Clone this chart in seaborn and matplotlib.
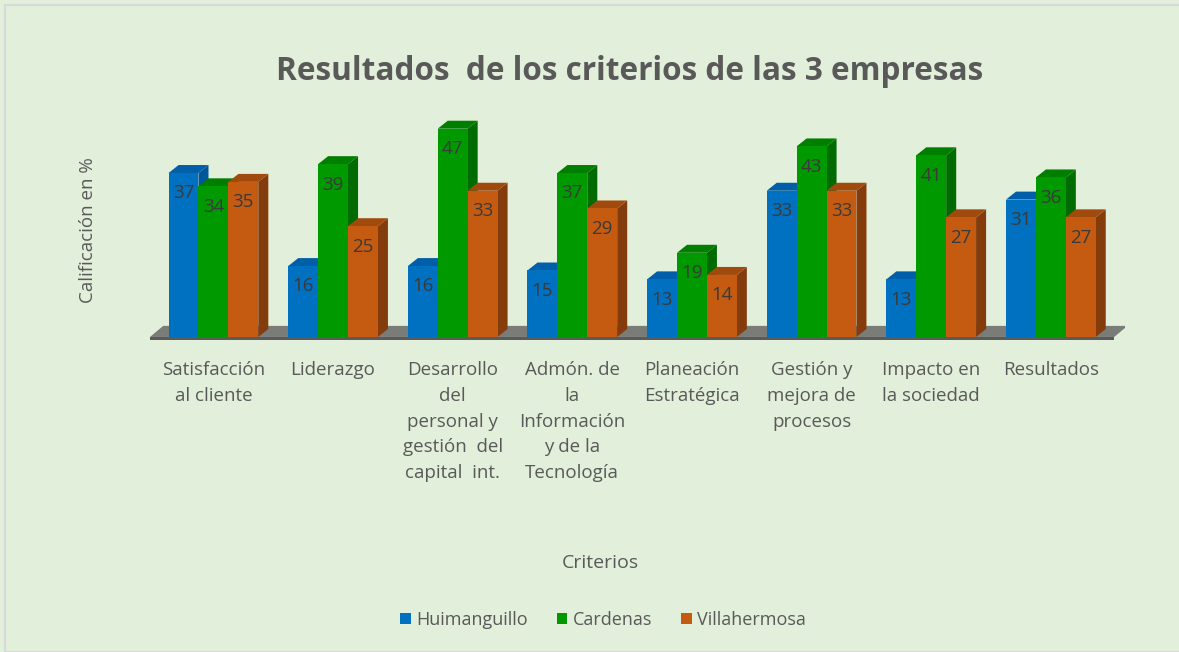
import matplotlib
matplotlib.use("Agg")
import matplotlib.pyplot as plt
from matplotlib.patches import Polygon, Rectangle
import seaborn as sns
import pandas as pd

# datos
criterios = [
    "Satisfacción\nal cliente",
    "Liderazgo",
    "Desarrollo\ndel\npersonal y\ngestión  del\ncapital  int.",
    "Admón. de\nla\nInformación\ny de la\nTecnología",
    "Planeación\nEstratégica",
    "Gestión y\nmejora de\nprocesos",
    "Impacto en\nla sociedad",
    "Resultados",
]
empresas = ["Huimanguillo", "Cardenas", "Villahermosa"]
huimanguillo = [37, 16, 16, 15, 13, 33, 13, 31]
cardenas = [34, 39, 47, 37, 19, 43, 41, 36]
villahermosa = [35, 25, 33, 29, 14, 33, 27, 27]

colores = ["#0070C0", "#009A00", "#C55A11"]
lados = ["#00569A", "#006B00", "#843C0C"]
techos = ["#005FA8", "#007E00", "#A14A0E"]

BG = "#E2EFDA"
GRIS = "#595959"
FONT = "Open Sans"


def build_df():
    rows = []
    for emp, vals in zip(empresas, [huimanguillo, cardenas, villahermosa]):
        for c, v in zip(criterios, vals):
            rows.append({"criterio": c, "empresa": emp, "valor": v})
    return pd.DataFrame(rows)


def add_3d(ax, dx, dy):
    # caras laterales y superiores a partir de las barras de seaborn
    bars = []
    for i, cont in enumerate(ax.containers):
        for p in cont.patches:
            bars.append((p.get_x(), p.get_width(), p.get_height(), i, p))
    bars.sort(key=lambda b: b[0])
    z = 3
    for x, w, h, i, p in bars:
        side = Polygon([(x + w, 0), (x + w + dx, dy), (x + w + dx, h + dy), (x + w, h)],
                       closed=True, facecolor=lados[i], edgecolor="none", zorder=z)
        top = Polygon([(x, h), (x + dx, h + dy), (x + w + dx, h + dy), (x + w, h)],
                      closed=True, facecolor=techos[i], edgecolor="none", zorder=z)
        ax.add_patch(side)
        ax.add_patch(top)
        p.set_zorder(z + 1)
        p.set_edgecolor("none")
        z += 2
        ax.text(x + w / 2, h - 4.6, f"{h:.0f}", ha="center", va="center",
                fontsize=13.5, color="#3A3A3A", family=FONT, zorder=200)


def main():
    df = build_df()
    fig = plt.figure(figsize=(11.79, 6.52), dpi=100)
    fig.patch.set_facecolor(BG)
    ax = fig.add_axes([150 / 1179, 1 - 341.4 / 652, 975 / 1179, 226 / 652])
    ax.set_facecolor("none")

    sns.barplot(data=df, x="criterio", y="valor", hue="empresa",
                palette=colores, width=0.75, saturation=1, ax=ax, legend=False)

    x0, x1 = -0.53, 7.53
    ax.set_xlim(-0.53, 7.62)
    ax.set_ylim(-1, 50)

    # piso
    fdx, fdy = 0.11, 2.5
    ax.add_patch(Polygon([(x0, 0), (x1, 0), (x1 + fdx, fdy), (x0 + fdx, fdy)],
                         closed=True, facecolor="#7A7C78", edgecolor="none", zorder=1))
    ax.add_patch(Polygon([(x0, -0.7), (x1, -0.7), (x1, 0), (x0, 0)],
                         closed=True, facecolor="#5A5A5A", edgecolor="none", zorder=1))

    add_3d(ax, 0.084, 1.8)

    for s in ax.spines.values():
        s.set_visible(False)
    ax.set_yticks([])
    ax.tick_params(axis="x", length=0, pad=14)
    ax.set_xticks(range(len(criterios)))
    ax.set_xticklabels(criterios, fontsize=13.5, color=GRIS, family=FONT,
                       linespacing=1.56, va="top")
    ax.set_xlabel("")
    ax.set_ylabel("")

    fig.text(630 / 1179, 1 - 71 / 652, "Resultados  de los criterios de las 3 empresas",
             ha="center", va="center", fontsize=22.7, fontweight="bold",
             color=GRIS, family=FONT)
    fig.text(88 / 1179, 1 - 230 / 652, "Calificación en %", rotation=90,
             ha="center", va="center", fontsize=13.5, color=GRIS, family=FONT)
    fig.text(600 / 1179, 1 - 563 / 652, "Criterios", ha="center", va="center",
             fontsize=14, color=GRIS, family=FONT)

    handles = [Rectangle((0, 0), 1, 1, facecolor=c) for c in colores]
    leg = fig.legend(handles, empresas, loc="center", bbox_to_anchor=(603 / 1179, 1 - 620 / 652),
                     ncol=3, frameon=False, handlelength=0.6, handleheight=0.6,
                     handletextpad=0.3, columnspacing=1.6,
                     prop={"family": FONT, "size": 13})
    for t in leg.get_texts():
        t.set_color(GRIS)

    # borde del area del grafico
    fig.add_artist(Rectangle((0.004, 0.0), 1.0, 0.992, transform=fig.transFigure,
                             facecolor="none", edgecolor="#D9D9D9", linewidth=1.5))

    fig.savefig("out.png", dpi=100, facecolor=BG)
    plt.close(fig)


if __name__ == "__main__":
    main()
